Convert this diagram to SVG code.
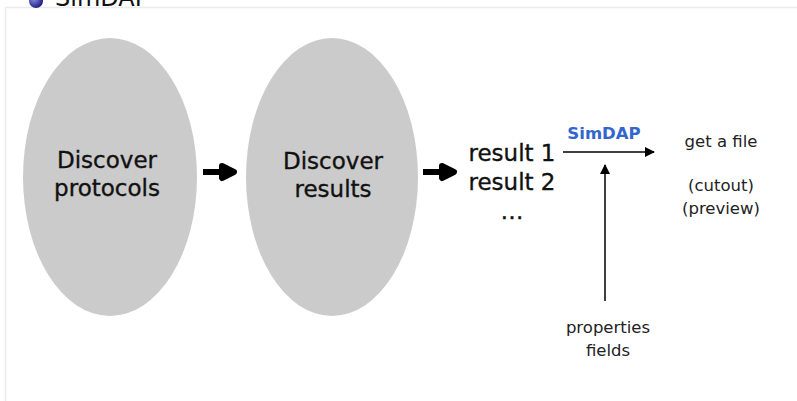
<svg xmlns="http://www.w3.org/2000/svg" width="797" height="401" viewBox="0 0 797 401">
<defs>
<radialGradient id="bul" cx="0.35" cy="0.35" r="0.7"><stop offset="0" stop-color="#8a8ae0"/><stop offset="1" stop-color="#1a1a80"/></radialGradient>
<marker id="ah" markerWidth="10" markerHeight="10" refX="9" refY="5" orient="auto" markerUnits="userSpaceOnUse"><path d="M0,0 L10,5 L0,10 Z" fill="#000"/></marker>
</defs>
<style>
.node{fill:#cbcbcb}
.big{font-family:"DejaVu Sans",sans-serif;font-size:23px;fill:#111;text-anchor:middle;stroke:#111;stroke-width:0.35}
.small{font-family:"DejaVu Sans",sans-serif;font-size:16.5px;fill:#222;text-anchor:middle}
.thin{stroke:#000;stroke-width:1.5;fill:none}
.thick{fill:#000;stroke:#000;stroke-width:6;stroke-linejoin:round}
</style>
<rect width="797" height="401" fill="#fff"/>
<rect x="5.5" y="7.5" width="800" height="400" fill="none" stroke="#ececec" stroke-width="1.5"/>
<circle cx="36" cy="1" r="7" fill="url(#bul)"/>
<text x="55" y="6" font-family="DejaVu Sans,sans-serif" font-size="24" fill="#111">SimDAP</text>
<g id="protocols">
<ellipse class="node" cx="110" cy="177" rx="87" ry="139"/>
<text class="big" x="107" y="168">Discover</text>
<text class="big" x="107" y="196">protocols</text>
</g>
<g id="results">
<ellipse class="node" cx="332" cy="177" rx="86" ry="139"/>
<text class="big" x="333" y="169">Discover</text>
<text class="big" x="333" y="197">results</text>
</g>
<g id="resultlist">
<text class="big" x="512" y="161">result 1</text>
<text class="big" x="512" y="190">result 2</text>
<text class="big" x="512" y="219">…</text>
</g>
<g id="simdap">
<text x="604" y="139" font-family="DejaVu Sans,sans-serif" font-size="16.5" font-weight="bold" fill="#3366cc" text-anchor="middle">SimDAP</text>
</g>
<g id="getfile">
<text class="small" x="721" y="147">get a file</text>
<text class="small" x="721" y="191">(cutout)</text>
<text class="small" x="721" y="214">(preview)</text>
</g>
<g id="properties">
<text class="small" x="608" y="333">properties</text>
<text class="small" x="608" y="356">fields</text>
</g>
<g id="connectors">
<path class="thick" d="M203,172 H222 V166 L234,172 L222,178 V172"/>
<path class="thick" d="M423,172 H442 V166 L454,172 L442,178 V172"/>
<line class="thin" x1="563" y1="152" x2="654" y2="152" marker-end="url(#ah)"/>
<line class="thin" x1="605" y1="301" x2="605" y2="165" marker-end="url(#ah)"/>
</g>
</svg>
